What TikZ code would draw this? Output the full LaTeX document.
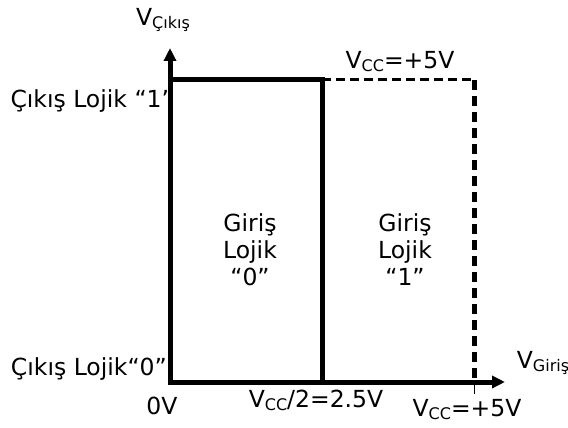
\documentclass[tikz,border=0pt]{standalone}
\usepackage{fontspec}
\setmainfont{DejaVu Sans}
\usetikzlibrary{arrows.meta}
\newcommand{\lowsub}[1]{\raisebox{-3pt}{\fontsize{16}{16}\selectfont #1}}

\begin{document}
\begin{tikzpicture}[
  x=1pt,y=-1pt,
  font=\fontsize{23.5}{27}\selectfont,
  lbl/.style={inner sep=0pt,align=center},
  axis/.style={line width=5pt,-{Triangle[length=13pt,width=12pt]}},
  edge/.style={line width=5pt},
  dashedge/.style={line width=3pt,dash pattern=on 9pt off 5pt},
  dashvert/.style={line width=5pt,dash pattern=on 10pt off 6pt}
]
\useasboundingbox (0,0) rectangle (568,428);
% axes and corners
\coordinate (o) at (170,382);
\coordinate (ytip) at (170,48);
\coordinate (xtip) at (505,382);
\coordinate (hi) at (170,80);
\coordinate (mid) at (322,80);
\coordinate (midb) at (322,382);
\coordinate (vcc) at (474,80);
\coordinate (vccb) at (474,382);
\coordinate (tick) at (474,394);

% labels
\node[lbl] (vout) at (163,20) {V\lowsub{Çıkış}};
\node[lbl,anchor=east] (hiout) at (174,101) {Çıkış Lojik “1”};
\node[lbl,anchor=east] (loout) at (167,369) {Çıkış Lojik“0”};
\node[lbl] (zero) at (162,406) {0V};
\node[lbl] (half) at (316,400) {V\lowsub{CC}/2=2.5V};
\node[lbl] (vccx) at (467,410) {V\lowsub{CC}=+5V};
\node[lbl] (vccy) at (400,62) {V\lowsub{CC}=+5V};
\node[lbl] (vin) at (543,363) {V\lowsub{Giriş}};
\node[lbl] (in0) at (250,250) {Giriş\\Lojik\\“0”};
\node[lbl] (in1) at (405,250) {Giriş\\Lojik\\“1”};

\draw[dashedge] (mid) -- (vcc);
\draw[dashvert] (vcc) -- (vccb);
\draw[line width=0.6pt] (vccb) -- (tick);
\draw[edge] (hi) -- (mid) -- (midb);
\draw[axis] (o) -- (ytip);
\draw[axis] ([xshift=-2.5pt]o) -- (xtip);
\end{tikzpicture}
\end{document}
